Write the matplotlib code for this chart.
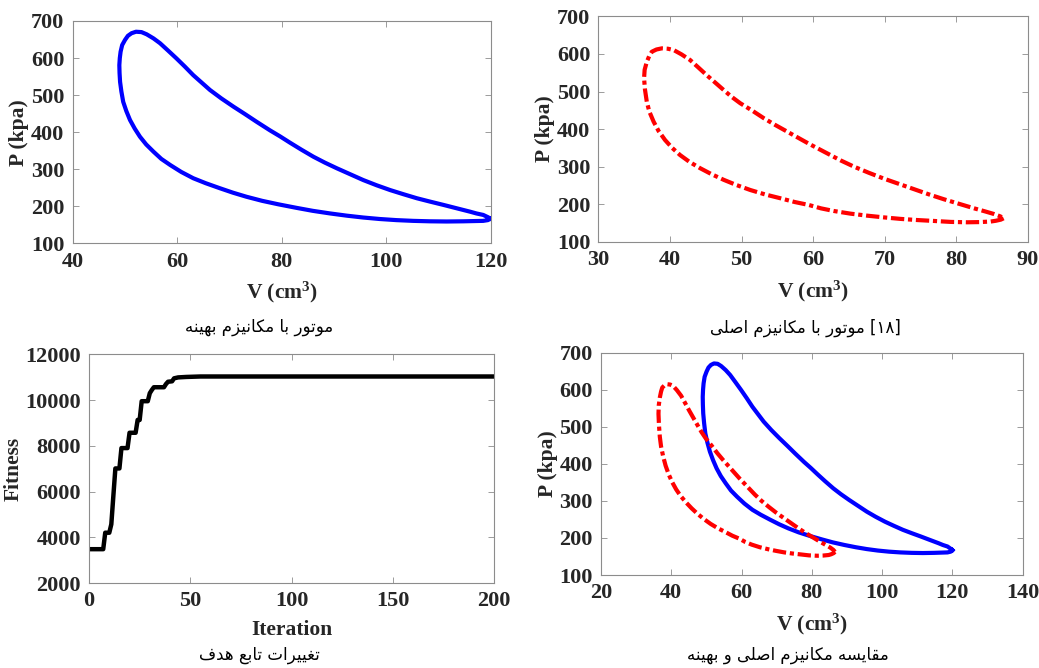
import numpy as np
import matplotlib.pyplot as plt

plt.rcParams['font.family'] = ['Liberation Serif', 'DejaVu Serif']
plt.rcParams['font.weight'] = 'bold'
plt.rcParams['mathtext.fontset'] = 'custom'
plt.rcParams['mathtext.rm'] = 'Liberation Serif:bold'
plt.rcParams['mathtext.bf'] = 'Liberation Serif:bold'
plt.rcParams['mathtext.it'] = 'Liberation Serif:bold'

# P-V loop, optimised mechanism (V in cm^3, P in kPa)
V_OPT = [120.0, 119.5, 118.6, 117.0, 114.8, 111.6, 108.4, 105.2, 102.0, 98.8,
         95.65, 92.5, 89.3, 86.0, 82.9, 79.4, 76.3, 73.3, 70.7, 68.2, 65.5,
         63.1, 60.8, 58.7, 57.0, 55.5, 54.1, 52.9, 51.9, 51.0, 50.3, 49.7,
         49.35, 49.1, 49.0, 48.96, 49.05, 49.2, 49.5, 50.05, 50.6, 51.3, 52.15,
         53.2, 54.2, 55.5, 56.75, 58.3, 59.9, 61.5, 63.1, 64.7, 66.3, 68.5,
         70.8, 73.0, 75.25, 77.8, 79.7, 81.6, 83.8, 86.1, 88.3, 90.6, 93.1,
         95.65, 98.2, 100.8, 103.3, 105.9, 108.4, 111.0, 113.5, 116.1, 117.3,
         118.6, 119.5, 120.0]
P_OPT = [167, 163, 161, 160.5, 159.8, 159.3, 159.8, 161, 163, 166,
         170, 175, 181, 188, 196, 205.6, 215, 226, 237, 249, 262.5,
         276, 293, 311.6, 328, 347.5, 367, 388, 410, 433, 457, 482,
         510, 536, 560, 581, 600, 617, 635, 649, 660, 667, 671,
         670, 664, 653, 640, 620, 599, 577, 554, 534, 514, 491,
         469, 449, 428, 405, 389, 372, 353, 334, 318, 302.7, 287,
         271, 257, 244, 233, 222, 213, 204, 195, 185.7, 181,
         177, 171, 167]

# P-V loop, original mechanism [18]
V_ORG = [86.6, 86.2, 85.5, 84.8, 83.2, 81.5, 79.2, 76.9, 74.5, 72.2, 69.9,
         67.6, 65.2, 62.9, 61.1, 59.4, 57.4, 55.4, 53.3, 51.2, 49.3, 47.5,
         45.8, 44.2, 42.7, 41.4, 40.3, 39.3, 38.4, 37.7, 37.1, 36.75, 36.5,
         36.37, 36.45, 36.75, 37.1, 37.45, 38.1, 38.85, 39.7, 40.5, 41.6, 42.8,
         43.9, 45.1, 46.3, 47.5, 48.6, 49.8, 51.5, 53.1, 54.7, 56.3, 57.8,
         59.4, 60.7, 61.9, 63.8, 65.7, 67.8, 69.9, 72.0, 74.1, 76.2, 78.3,
         80.4, 82.5, 84.0, 85.25, 86.1, 86.6]
P_ORG = [162.6, 159, 156, 154, 152.5, 152, 153, 155.5, 158, 161, 165,
         169.5, 175, 182, 189, 198, 206, 216, 226, 238, 251, 265,
         280, 296, 313, 331, 350, 371, 395, 420, 447, 473, 505,
         535, 558, 579, 595, 606, 612, 615, 614, 610.6, 599, 584,
         565, 544, 524, 504, 486, 469, 449, 429, 411, 394, 378,
         361, 348, 336, 317, 300, 283.5, 268, 254, 240, 226, 213,
         201, 189, 181, 174, 168, 162.6]

# best fitness per generation (change points)
GA_ITER = [1, 7, 8, 10, 11, 12, 13, 15, 16, 19, 20, 23, 24, 25, 26, 29, 30, 31,
           32, 37, 38, 39, 41, 42, 44, 48, 55, 200]
GA_FIT = [3480, 3480, 4200, 4200, 4570, 5800, 7010, 7010, 7900, 7900, 8570, 8570,
          9130, 9130, 9950, 9950, 10300, 10440, 10560, 10560, 10700, 10800, 10820,
          10950, 10990, 11010, 11030, 11030]

CAPTIONS = ['موتور با مکانیزم بهینه',
            'موتور با مکانیزم اصلی',
            'تغییرات تابع هدف',
            'مقایسه مکانیزم اصلی و بهینه']
REF_TAG = '[۱۸]'

# Arabic presentation forms: isolated, final, initial, medial
FORMS = {
    'ا': ('\uFE8D', '\uFE8E'),
    'د': ('\uFEA9', '\uFEAA'),
    'ر': ('\uFEAD', '\uFEAE'),
    'ز': ('\uFEAF', '\uFEB0'),
    'و': ('\uFEED', '\uFEEE'),
    'ب': ('\uFE8F', '\uFE90', '\uFE91', '\uFE92'),
    'ت': ('\uFE95', '\uFE96', '\uFE97', '\uFE98'),
    'س': ('\uFEB1', '\uFEB2', '\uFEB3', '\uFEB4'),
    'ص': ('\uFEB9', '\uFEBA', '\uFEBB', '\uFEBC'),
    'ع': ('\uFEC9', '\uFECA', '\uFECB', '\uFECC'),
    'غ': ('\uFECD', '\uFECE', '\uFECF', '\uFED0'),
    'ف': ('\uFED1', '\uFED2', '\uFED3', '\uFED4'),
    'ق': ('\uFED5', '\uFED6', '\uFED7', '\uFED8'),
    'ل': ('\uFEDD', '\uFEDE', '\uFEDF', '\uFEE0'),
    'م': ('\uFEE1', '\uFEE2', '\uFEE3', '\uFEE4'),
    'ن': ('\uFEE5', '\uFEE6', '\uFEE7', '\uFEE8'),
    'ه': ('\uFEE9', '\uFEEA', '\uFEEB', '\uFEEC'),
    'ک': ('\uFB8E', '\uFB8F', '\uFB90', '\uFB91'),
    'ی': ('\uFBFC', '\uFBFD', '\uFBFE', '\uFBFF'),
}


def shape_rtl(text):
    words = []
    for w in text.split(' '):
        out = []
        for i, ch in enumerate(w):
            f = FORMS.get(ch)
            if f is None:
                out.append(ch)
                continue
            prev = w[i - 1] if i > 0 else ''
            nxt = w[i + 1] if i + 1 < len(w) else ''
            jp = prev in FORMS and len(FORMS[prev]) == 4
            jn = len(f) == 4 and nxt in FORMS
            if jp and jn:
                out.append(f[3])
            elif jp:
                out.append(f[1])
            elif jn:
                out.append(f[2])
            else:
                out.append(f[0])
        words.append(''.join(reversed(out)))
    return ' '.join(reversed(words))


def style(ax):
    for s in ax.spines.values():
        s.set_color('#8c8c8c')
        s.set_linewidth(0.8)
    ax.tick_params(direction='in', top=True, right=True, length=4, width=0.6,
                   color='#8c8c8c', labelcolor='#262626', labelsize=16, pad=6)
    for lab in ax.get_xticklabels() + ax.get_yticklabels():
        lab.set_fontweight('bold')


def labels(ax, xl, yl):
    ax.set_xlabel(xl, fontsize=15.5, fontweight='bold', color='#262626', labelpad=6)
    ax.set_ylabel(yl, fontsize=15.5, fontweight='bold', color='#262626', labelpad=1)


def pv_axes(ax, xlim, xticks):
    ax.set_xlim(*xlim)
    ax.set_xticks(xticks)
    ax.set_ylim(100, 700)
    ax.set_yticks(np.arange(100, 701, 100))
    labels(ax, 'V (cm$^3$)', 'P (kpa)')
    style(ax)


fig = plt.figure(figsize=(10.39, 6.68), dpi=100)
dash_dot = (0, (3.2, 0.9, 1.0, 0.9))

ax1 = fig.add_axes([0.0698, 0.6355, 0.4023, 0.3331])
ax1.plot(V_OPT, P_OPT, color='#0000ff', lw=3)
pv_axes(ax1, (40, 120), np.arange(40, 121, 20))

ax2 = fig.add_axes([0.576, 0.638, 0.4134, 0.3374])
ax2.plot(V_ORG, P_ORG, color='#ff0000', lw=3, linestyle=dash_dot)
pv_axes(ax2, (30, 90), np.arange(30, 91, 10))

ax3 = fig.add_axes([0.0857, 0.1272, 0.3898, 0.3424])
ax3.plot(GA_ITER, GA_FIT, color='black', lw=3.2)
ax3.set_xlim(0, 200)
ax3.set_ylim(2000, 12000)
ax3.set_xticks(np.arange(0, 201, 50))
ax3.set_yticks(np.arange(2000, 12001, 2000))
labels(ax3, 'Iteration', 'Fitness')
style(ax3)

ax4 = fig.add_axes([0.5784, 0.1392, 0.4059, 0.3328])
ax4.plot(V_OPT, P_OPT, color='#0000ff', lw=3)
ax4.plot(V_ORG, P_ORG, color='#ff0000', lw=3, linestyle=dash_dot)
pv_axes(ax4, (20, 140), np.arange(20, 141, 20))

cap_kw = dict(ha='center', va='center', fontsize=12, family=['DejaVu Sans'],
              fontweight='normal', color='black')
fig.text(259 / 1039, 1 - 327 / 668, shape_rtl(CAPTIONS[0]), **cap_kw)
fig.text(805 / 1039, 1 - 328 / 668, shape_rtl(CAPTIONS[1]) + ' ' + REF_TAG, **cap_kw)
fig.text(259 / 1039, 1 - 655 / 668, shape_rtl(CAPTIONS[2]), **cap_kw)
fig.text(788 / 1039, 1 - 655 / 668, shape_rtl(CAPTIONS[3]), **cap_kw)

fig.savefig('out.png', dpi=100)
